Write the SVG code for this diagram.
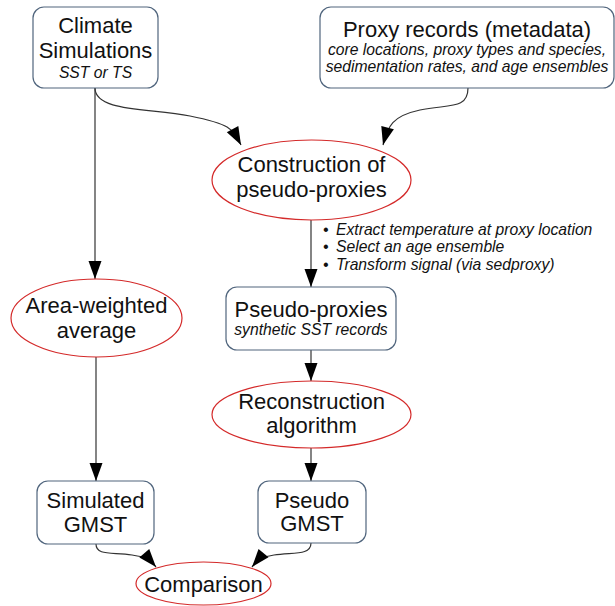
<svg xmlns="http://www.w3.org/2000/svg" width="615" height="606" viewBox="0 0 615 606">
<style>
.box{fill:#fff;stroke:#50657d;stroke-width:1.2}
.ell{fill:#fff;stroke:#d42a2a;stroke-width:1.2}
.t{font-family:"Liberation Sans",Arial,sans-serif;font-size:22px;fill:#111;text-anchor:middle}
.i{font-family:"Liberation Sans",Arial,sans-serif;font-size:15.7px;font-style:italic;fill:#111;text-anchor:middle}
.b{font-family:"Liberation Sans",Arial,sans-serif;font-size:15.7px;font-style:italic;fill:#111}
.c{fill:none;stroke:#333;stroke-width:1.2}
</style>
<defs>
<marker id="ah" markerUnits="userSpaceOnUse" markerWidth="20" markerHeight="14" refX="18" refY="7" orient="auto" overflow="visible">
<path d="M0,0.5 L18,7 L0,13.5 z" fill="#000"/>
</marker>
</defs>
<rect width="615" height="606" fill="#fff"/>
<g id="connectors">
<path class="c" d="M95,88 L95,279" marker-end="url(#ah)"/>
<path class="c" d="M95,88 C95,112 150,108 190,116 S232,128 241,145" marker-end="url(#ah)"/>
<path class="c" d="M468,88 C468,110 448,104 420,110 S388,126 383,145" marker-end="url(#ah)"/>
<path class="c" d="M311,220 L311,287" marker-end="url(#ah)"/>
<path class="c" d="M96,357 L96,481" marker-end="url(#ah)"/>
<path class="c" d="M311,350 L311,381" marker-end="url(#ah)"/>
<path class="c" d="M311,448 L311,481" marker-end="url(#ah)"/>
<path class="c" d="M96,544 C96,556 112,552 132,555 S150,560 156,567" marker-end="url(#ah)"/>
<path class="c" d="M311,543 C311,556 292,552 274,555 S257,561 252,567" marker-end="url(#ah)"/>
</g>
<g id="climate">
<rect class="box" x="33" y="7" width="125" height="81" rx="11"/>
<text class="t" x="95.5" y="33">Climate</text>
<text class="t" x="95.5" y="58">Simulations</text>
<text class="i" x="95.5" y="78">SST or TS</text>
</g>
<g id="proxy">
<rect class="box" x="320" y="7" width="294" height="81" rx="11"/>
<text class="t" x="467" y="37">Proxy records (metadata)</text>
<text class="i" x="467" y="55">core locations, proxy types and species,</text>
<text class="i" x="467" y="72">sedimentation rates, and age ensembles</text>
</g>
<g id="construction">
<ellipse class="ell" cx="311.5" cy="180" rx="99.5" ry="40"/>
<text class="t" x="311.5" y="172">Construction of</text>
<text class="t" x="311.5" y="197">pseudo-proxies</text>
</g>
<g id="steps">
<text class="b" x="323" y="235">•</text>
<text class="b" x="336" y="235">Extract temperature at proxy location</text>
<text class="b" x="323" y="252">•</text>
<text class="b" x="336" y="252">Select an age ensemble</text>
<text class="b" x="323" y="270">•</text>
<text class="b" x="336" y="270">Transform signal (via sedproxy)</text>
</g>
<g id="area">
<ellipse class="ell" cx="96.5" cy="318" rx="85.5" ry="39"/>
<text class="t" x="96.5" y="313">Area-weighted</text>
<text class="t" x="96.5" y="338">average</text>
</g>
<g id="pseudoproxies">
<rect class="box" x="226" y="287" width="170" height="63" rx="11"/>
<text class="t" x="311" y="317">Pseudo-proxies</text>
<text class="i" x="311" y="335">synthetic SST records</text>
</g>
<g id="reconstruction">
<ellipse class="ell" cx="311.5" cy="414.5" rx="99.5" ry="33.5"/>
<text class="t" x="311.5" y="409">Reconstruction</text>
<text class="t" x="311.5" y="433">algorithm</text>
</g>
<g id="simulated">
<rect class="box" x="37" y="481" width="117" height="63" rx="11"/>
<text class="t" x="95.5" y="508">Simulated</text>
<text class="t" x="95.5" y="532">GMST</text>
</g>
<g id="pseudogmst">
<rect class="box" x="258" y="481" width="108" height="62" rx="11"/>
<text class="t" x="312" y="508">Pseudo</text>
<text class="t" x="312" y="531">GMST</text>
</g>
<g id="comparison">
<ellipse class="ell" cx="203.5" cy="583.5" rx="67.5" ry="21.5"/>
<text class="t" x="203.5" y="592">Comparison</text>
</g>
</svg>
